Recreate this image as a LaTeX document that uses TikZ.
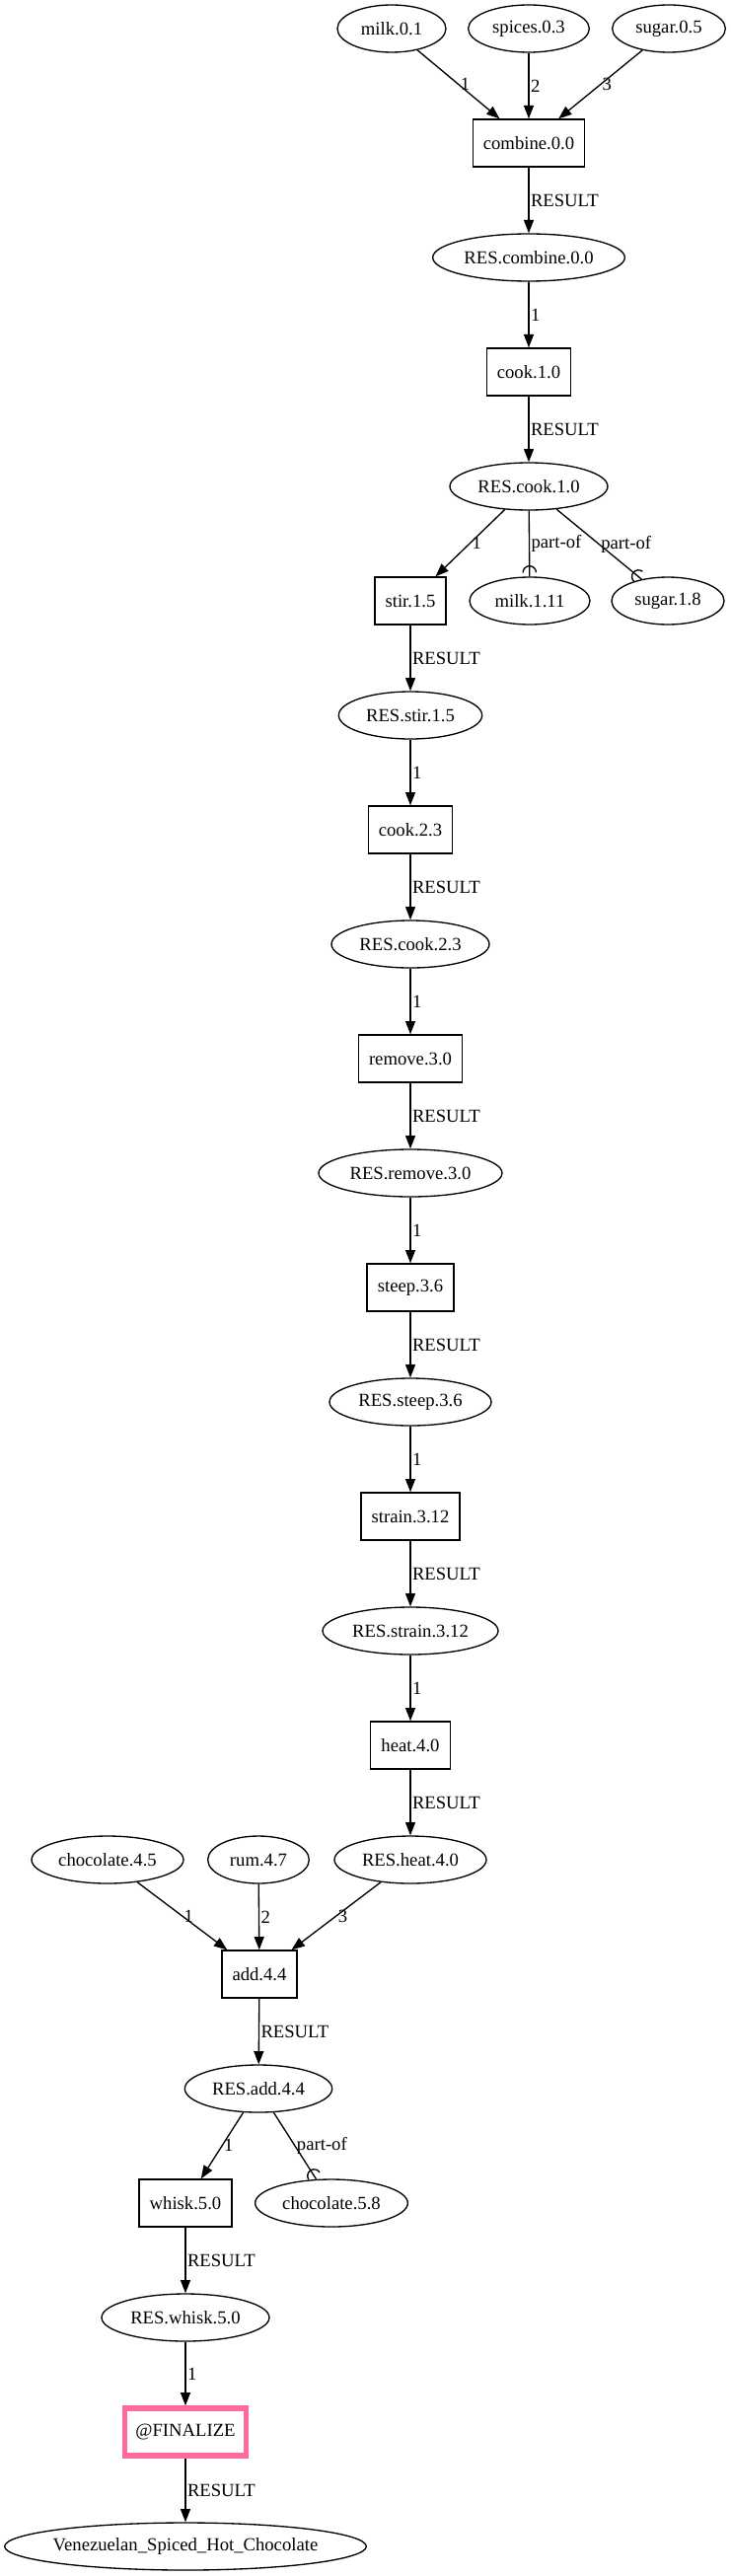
\documentclass[tikz,border=0pt]{standalone}
\usepackage{fontspec}
\setmainfont{Liberation Serif}
\usepackage{tikz}
\usetikzlibrary{arrows.meta, shapes.geometric, decorations.markings}
\definecolor{finalpink}{RGB}{255,105,155}

\tikzset{
    op/.style={draw, rectangle, line width=1pt, inner xsep=8pt, minimum width=54pt, minimum height=36pt},
    res/.style={draw, ellipse, line width=1pt, inner sep=0pt, minimum height=36pt,
        execute at begin node={\hbox to 0pt\bgroup\hss}, execute at end node={\hss\egroup}},
    final/.style={op, draw=finalpink, line width=4pt},
    flow/.style={line width=1pt, -{Triangle[length=10pt, width=7.5pt]}},
    partof/.style={line width=1pt, postaction={decorate},
        decoration={markings, mark=at position 1 with {\draw[line width=1pt] (-3pt,5pt) arc[start angle=90, end angle=270, radius=5pt];}}},
    lab/.style={right, inner sep=1pt}
}

\begin{document}
\begin{tikzpicture}[x=0.75pt, y=-0.75pt, font=\fontsize{14pt}{16pt}\selectfont]
    \useasboundingbox (0,0) rectangle (741,2611);

    % first step
    \node[res, minimum width=82.5pt] (milk01) at (397,29) {milk.0.1};
    \node[res, minimum width=92pt] (spices03) at (536,29) {spices.0.3};
    \node[res, minimum width=86pt] (sugar05) at (678,29) {sugar.0.5};
    \node[op] (combine00) at (536,145) {combine.0.0};
    \node[res, minimum width=146pt] (rescombine00) at (536,261) {RES.combine.0.0};
    \node[op] (cook10) at (536,377) {cook.1.0};
    \node[res, minimum width=120pt] (rescook10) at (536,493) {RES.cook.1.0};
    \node[op] (stir15) at (416,609) {stir.1.5};
    \node[res, minimum width=91.5pt] (milk111) at (537,609) {milk.1.11};
    \node[res, minimum width=85.5pt] (sugar18) at (677,609) {sugar.1.8};

    % middle chain
    \node[res, minimum width=109pt] (resstir15) at (416,725) {RES.stir.1.5};
    \node[op] (cook23) at (416,841) {cook.2.3};
    \node[res, minimum width=120pt] (rescook23) at (416,957) {RES.cook.2.3};
    \node[op] (remove30) at (416,1073) {remove.3.0};
    \node[res, minimum width=139.5pt] (resremove30) at (416,1189) {RES.remove.3.0};
    \node[op] (steep36) at (416,1305) {steep.3.6};
    \node[res, minimum width=123pt] (ressteep36) at (416,1421) {RES.steep.3.6};
    \node[op] (strain312) at (416,1537) {strain.3.12};
    \node[res, minimum width=133.5pt] (resstrain312) at (416,1653) {RES.strain.3.12};
    \node[op] (heat40) at (416,1769) {heat.4.0};
    \node[res, minimum width=115.5pt] (resheat40) at (416,1885) {RES.heat.4.0};

    % last steps
    \node[res, minimum width=115.5pt] (chocolate45) at (109,1885) {chocolate.4.5};
    \node[res, minimum width=77pt] (rum47) at (262,1885) {rum.4.7};
    \node[op] (add44) at (263,2001) {add.4.4};
    \node[res, minimum width=112pt] (resadd44) at (262,2117) {RES.add.4.4};
    \node[op] (whisk50) at (188,2233) {whisk.5.0};
    \node[res, minimum width=116pt] (chocolate58) at (336,2233) {chocolate.5.8};
    \node[res, minimum width=127.5pt] (reswhisk50) at (188,2349) {RES.whisk.5.0};
    \node[final] (finalize) at (188,2465) {@FINALIZE};
    \node[res, minimum width=275pt] (dish) at (188,2581) {Venezuelan\_Spiced\_Hot\_Chocolate};

    \draw[flow] (milk01) -- node[lab] {1} (combine00);
    \draw[flow] (spices03) -- node[lab] {2} (combine00);
    \draw[flow] (sugar05) -- node[lab] {3} (combine00);
    \draw[flow] (combine00) -- node[lab] {RESULT} (rescombine00);
    \draw[flow] (rescombine00) -- node[lab] {1} (cook10);
    \draw[flow] (cook10) -- node[lab] {RESULT} (rescook10);
    \draw[flow] (rescook10) -- node[lab] {1} (stir15);
    \draw[partof] (rescook10) -- node[lab] {part-of} (milk111);
    \draw[partof] (rescook10) -- node[lab] {part-of} (sugar18);
    \draw[flow] (stir15) -- node[lab] {RESULT} (resstir15);
    \draw[flow] (resstir15) -- node[lab] {1} (cook23);
    \draw[flow] (cook23) -- node[lab] {RESULT} (rescook23);
    \draw[flow] (rescook23) -- node[lab] {1} (remove30);
    \draw[flow] (remove30) -- node[lab] {RESULT} (resremove30);
    \draw[flow] (resremove30) -- node[lab] {1} (steep36);
    \draw[flow] (steep36) -- node[lab] {RESULT} (ressteep36);
    \draw[flow] (ressteep36) -- node[lab] {1} (strain312);
    \draw[flow] (strain312) -- node[lab] {RESULT} (resstrain312);
    \draw[flow] (resstrain312) -- node[lab] {1} (heat40);
    \draw[flow] (heat40) -- node[lab] {RESULT} (resheat40);
    \draw[flow] (chocolate45) -- node[lab] {1} (add44);
    \draw[flow] (rum47) -- node[lab] {2} (add44);
    \draw[flow] (resheat40) -- node[lab] {3} (add44);
    \draw[flow] (add44) -- node[lab] {RESULT} (resadd44);
    \draw[flow] (resadd44) -- node[lab] {1} (whisk50);
    \draw[partof] (resadd44) -- node[lab] {part-of} (chocolate58);
    \draw[flow] (whisk50) -- node[lab] {RESULT} (reswhisk50);
    \draw[flow] (reswhisk50) -- node[lab] {1} (finalize);
    \draw[flow] (finalize) -- node[lab] {RESULT} (dish);
\end{tikzpicture}
\end{document}
